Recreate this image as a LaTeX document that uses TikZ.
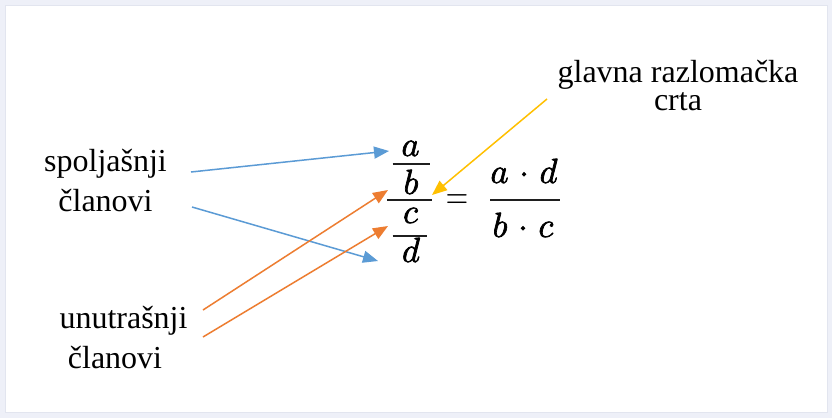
\RequirePackage{fix-cm}
\documentclass[tikz,border=0pt]{standalone}
\usepackage[no-math]{fontspec}
\setmainfont{Liberation Serif}
\usetikzlibrary{arrows.meta}
\definecolor{framebg}{HTML}{EEF0F8}
\definecolor{frameline}{HTML}{E2E5EF}
\definecolor{arrblue}{HTML}{5B9BD5}
\definecolor{arrorange}{HTML}{ED7D31}
\definecolor{arryellow}{HTML}{FFC000}
\newcommand{\heavytext}[1]{\special{pdf:literal 2 Tr 0.7 w}#1\special{pdf:literal 0 Tr}}
\begin{document}
\begin{tikzpicture}[x=1pt,y=-1pt,
  lbl/.style={font=\fontsize{32}{40}\selectfont, align=center, inner sep=0pt, anchor=base},
  mletter/.style={font=\fontsize{35}{42}\selectfont, inner sep=0pt, anchor=base},
  fracline/.style={line width=1.9pt, black!88},
  conn/.style={line width=1.5pt, -{Triangle[length=15pt,width=12pt]}},
]
\useasboundingbox (0,0) rectangle (832,418);
\fill[framebg] (0,0) rectangle (832,418);
\fill[white] (5,5) rectangle (827,412);
\draw[frameline, line width=0.8pt] (5,5) rectangle (827,412);

% labels (base anchor = baseline of last line)
\node[lbl] (ext) at (105.5,211) {spoljašnji\\članovi};
\node[lbl] (int) at (115,368) {\hspace*{17pt}unutrašnji\\članovi};
\node[lbl, font=\fontsize{32}{28}\selectfont] (main) at (678,110) {glavna razlomačka\\crta};

% left compound fraction
\node[mletter] (na) at (410.5,156) {\heavytext{$a$}};
\node[mletter] (nb) at (411,194) {\heavytext{$b$}};
\node[mletter] (nc) at (410.5,223) {\heavytext{$c$}};
\node[mletter] (nd) at (411,262) {\heavytext{$d$}};
\draw[fracline] (392.5,164) -- (430,164);
\draw[fracline] (387,200) -- (432,200);
\draw[fracline] (392.5,236) -- (426.5,236);

% equals sign
\node[font=\fontsize{31}{36}\selectfont, inner sep=0pt] (eq) at (457,201.7) {\scalebox{1}[1.35]{$=$}};

% right fraction
\node[mletter] (num) at (524,183) {\heavytext{$a\mkern5.5mu{\cdot}\mkern5.5mu d$}};
\draw[fracline] (490,200) -- (560,200);
\node[mletter] (den) at (523,237) {\heavytext{$b\mkern5.5mu{\cdot}\mkern5.5mu c$}};

% connector ends
\coordinate (s1) at (191,172);
\coordinate (t1) at (389,151);
\coordinate (s2) at (192,207);
\coordinate (t2) at (378,261);
\coordinate (s3) at (203,310);
\coordinate (t3) at (388,190);
\coordinate (s4) at (203,337);
\coordinate (t4) at (388,226);
\coordinate (s5) at (547,99);
\coordinate (t5) at (432,195);

\draw[conn, arrblue] (s1) -- (t1);
\draw[conn, arrblue] (s2) -- (t2);
\draw[conn, arrorange] (s3) -- (t3);
\draw[conn, arrorange] (s4) -- (t4);
\draw[conn, arryellow] (s5) -- (t5);
\end{tikzpicture}
\end{document}
